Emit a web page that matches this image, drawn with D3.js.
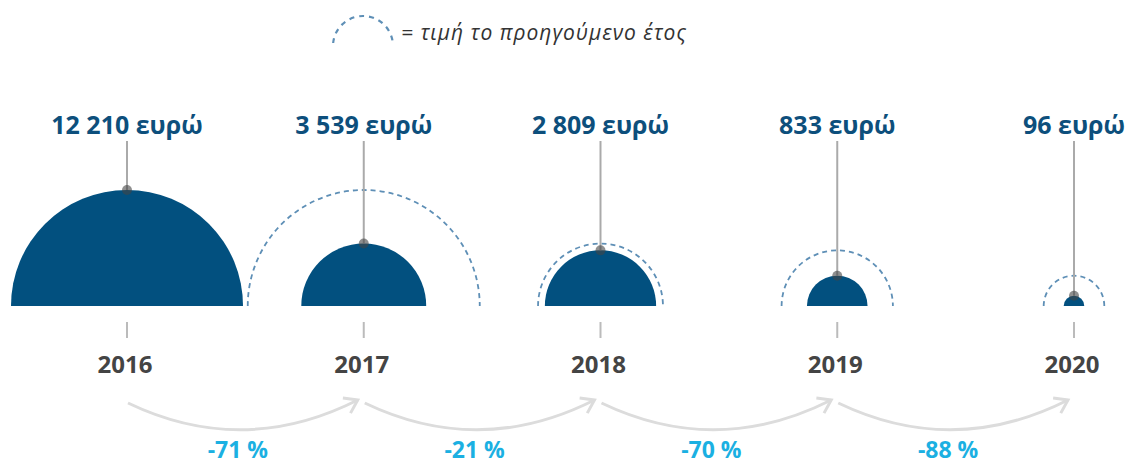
<!DOCTYPE html>
<html><head><meta charset="utf-8">
<script src="https://cdn.jsdelivr.net/npm/d3@7"></script>
<style>body{margin:0;background:#fff}svg{display:block}</style>
</head><body>
<svg id="c" width="1129" height="464"></svg>
<script>
const years = ["2016","2017","2018","2019","2020"];
const values = [12210, 3539, 2809, 833, 96];
const valueLabels = ["12 210 ευρώ","3 539 ευρώ","2 809 ευρώ","833 ευρώ","96 ευρώ"];
const changes = ["-71 %","-21 %","-70 %","-88 %"];
const legendText = "= τιμή το προηγούμενο έτος";

const svg = d3.select("#c");
const font = "'Open Sans', sans-serif";
const x = d3.scalePoint().domain(years).range([127, 1074]);
const r = d3.scaleSqrt().domain([0, d3.max(values)]).range([0, 116]);
const base = 306;
const fill = "#02507f";
const dashCol = "#5e8fb6";

const half = d3.arc().startAngle(-Math.PI/2).endAngle(Math.PI/2).innerRadius(0);
const halfLine = rr => {
  const p = d3.path();
  p.arc(0, 0, rr, Math.PI, 2*Math.PI);
  return p.toString();
};

// legend
const lg = svg.append("g");
(() => {
  const p = d3.path();
  p.arc(0, 0, 30, Math.PI + 0.1, 2*Math.PI - 0.1);
  lg.append("path").attr("transform","translate(363,46)").attr("d", p.toString())
    .attr("fill","none").attr("stroke",dashCol).attr("stroke-width",2.2).attr("stroke-dasharray","5,5");
})();
lg.append("text").attr("x",401).attr("y",40).text(legendText)
  .attr("font-family",font).attr("font-style","italic").attr("font-size",21)
  .attr("letter-spacing",1).attr("fill","#333");

const g = svg.append("g");
years.forEach((y, i) => {
  const cx = x(y), rr = r(values[i]);
  if (i > 0) {
    g.append("path").attr("transform",`translate(${cx},${base})`)
      .attr("d", halfLine(r(values[i-1])))
      .attr("fill","none").attr("stroke",dashCol).attr("stroke-width",1.8).attr("stroke-dasharray","5,4");
  }
  g.append("path").attr("transform",`translate(${cx},${base})`)
    .attr("d", half.outerRadius(rr)()).attr("fill", fill);
  g.append("line").attr("x1",cx).attr("x2",cx).attr("y1",141).attr("y2",base-rr)
    .attr("stroke","#aaa").attr("stroke-width",2);
  g.append("circle").attr("cx",cx).attr("cy",base-rr).attr("r",5)
    .attr("fill","#444").attr("fill-opacity",0.6);
  g.append("text").attr("x",cx).attr("y",134).attr("text-anchor","middle")
    .attr("font-family",font).attr("font-weight",700).attr("font-size",25)
    .attr("fill","#0d4f7c").text(valueLabels[i]);
  g.append("line").attr("x1",cx).attr("x2",cx).attr("y1",322).attr("y2",338)
    .attr("stroke","#bbb").attr("stroke-width",2);
  g.append("text").attr("x",cx - 2).attr("y",373).attr("text-anchor","middle")
    .attr("font-family",font).attr("font-weight",700).attr("font-size",24)
    .attr("fill","#444").text(y);
});

changes.forEach((c, i) => {
  const x0 = x(years[i]) + 1, x1 = x(years[i+1]) - 6;
  const mx = (x0 + x1) / 2;
  const y0 = 403, y1 = 400, cy = 458;
  g.append("path").attr("d", `M${x0},${y0} Q${mx},${cy} ${x1},${y1}`)
    .attr("fill","none").attr("stroke","#dcdcdc").attr("stroke-width",3);
  const ang = Math.atan2(y1 - cy, x1 - mx);
  const L = 15, a = 0.6;
  const p1 = [x1 - L*Math.cos(ang - a), y1 - L*Math.sin(ang - a)];
  const p2 = [x1 - L*Math.cos(ang + a), y1 - L*Math.sin(ang + a)];
  g.append("path").attr("d", `M${p1[0]},${p1[1]} L${x1},${y1} L${p2[0]},${p2[1]}`)
    .attr("fill","none").attr("stroke","#dcdcdc").attr("stroke-width",3);
  g.append("text").attr("x",mx - 5).attr("y",458).attr("text-anchor","middle")
    .attr("font-family",font).attr("font-weight",700).attr("font-size",23)
    .attr("fill","#1bb0e2").text(c);
});
</script>
</body></html>
